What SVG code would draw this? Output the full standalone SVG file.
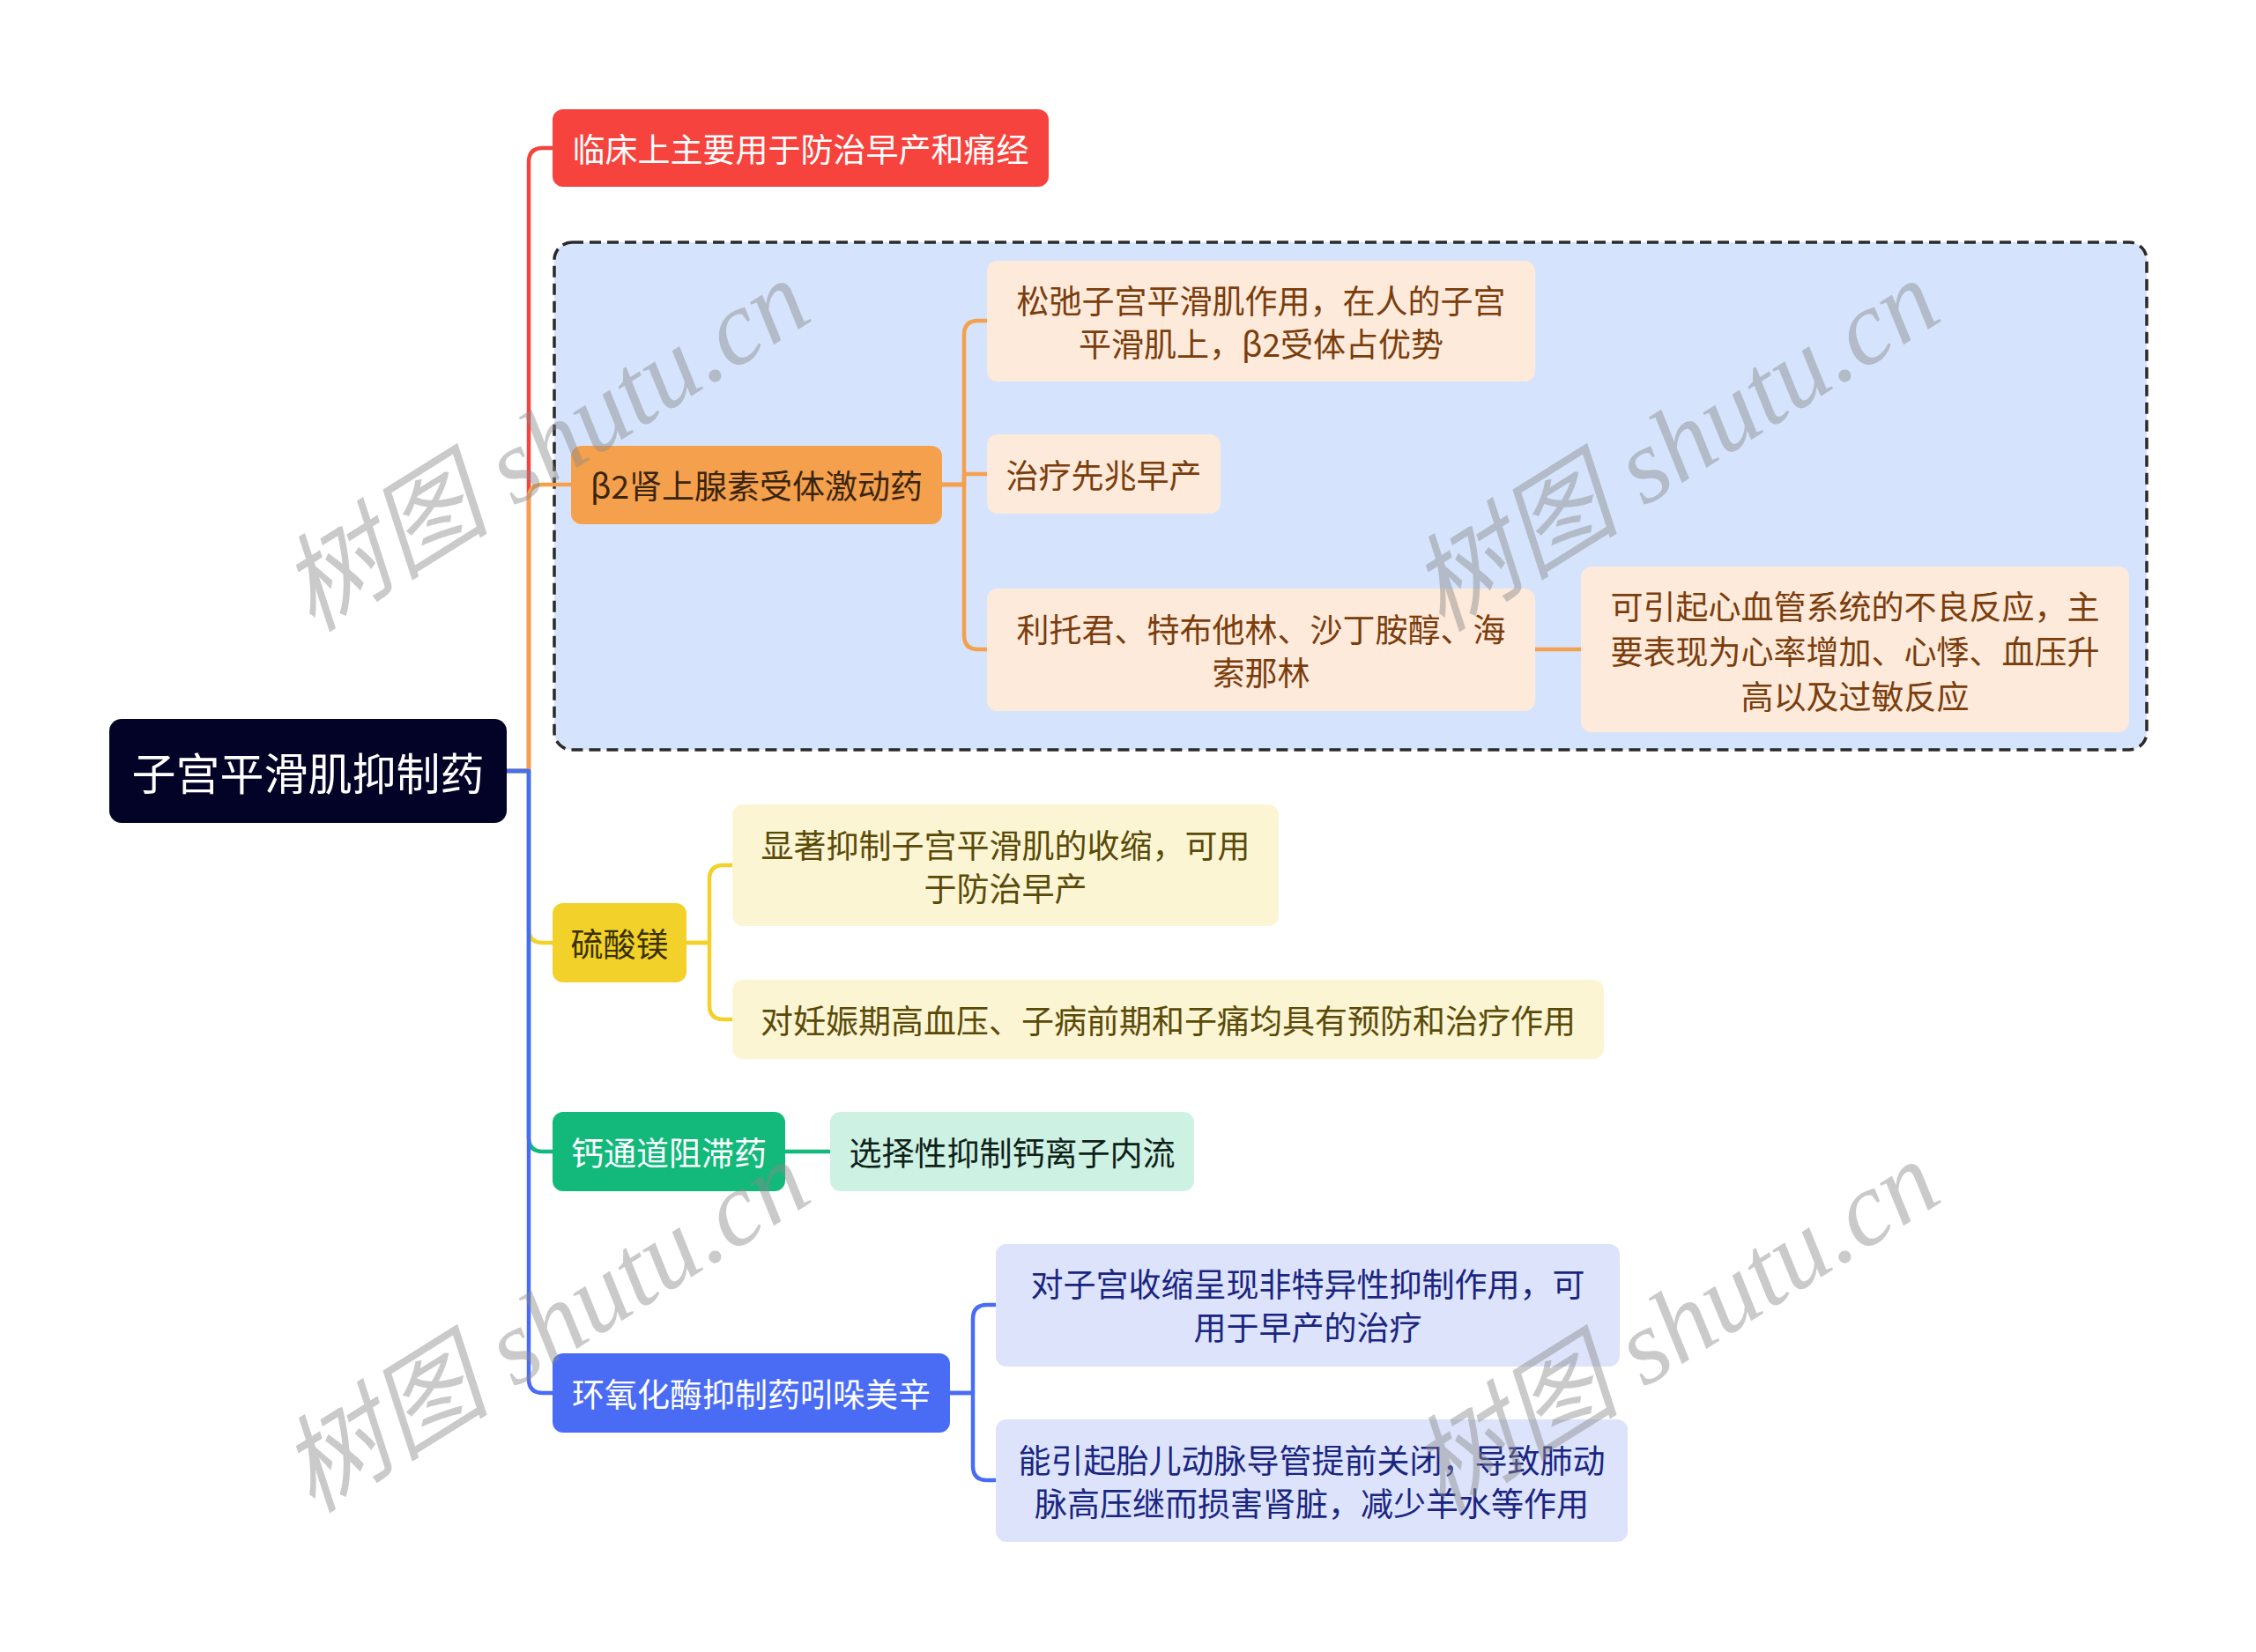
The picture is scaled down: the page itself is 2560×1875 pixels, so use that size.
<svg xmlns="http://www.w3.org/2000/svg" width="2560" height="1875" viewBox="0 0 2560 1875">
<style>
text{font-family:"Noto Sans CJK SC","Noto Sans",sans-serif;text-anchor:middle;dominant-baseline:central}
.t{font-size:37px}
.conn{fill:none;stroke-width:4.5;stroke-linecap:round;stroke-linejoin:round}
.wm{font-family:"Liberation Serif","Noto Sans CJK SC",serif;font-style:italic;font-size:120px;fill:#8a8a8a;fill-opacity:0.45;text-anchor:middle;dominant-baseline:alphabetic}
</style>
<rect width="2560" height="1875" fill="#ffffff"/>
<g id="group-box">
<rect x="629" y="275" width="1807" height="576" rx="20" fill="#d5e4fc" stroke="#2a2a2a" stroke-width="3.5" stroke-dasharray="13 7"/>
</g>
<g id="connectors">
<path class="conn" stroke="#f4443e" d="M575,875 H600 V184 Q600,168 616,168 H627"/>
<path class="conn" stroke="#f4a04c" d="M575,875 H600 V566 Q600,550 616,550 H648"/>
<path class="conn" stroke="#f1d12a" d="M575,875 H600 V1054 Q600,1070 616,1070 H627"/>
<path class="conn" stroke="#12b97b" d="M575,875 H600 V1291 Q600,1307 616,1307 H627"/>
<path class="conn" stroke="#4a6cf5" d="M575,875 H600 V1565 Q600,1581 616,1581 H627"/>
<path class="conn" stroke="#f4a04c" d="M1069,550 H1094 V380 Q1094,364 1110,364 H1120"/>
<path class="conn" stroke="#f4a04c" d="M1069,550 H1094 V538 H1120"/>
<path class="conn" stroke="#f4a04c" d="M1069,550 H1094 V721 Q1094,737 1110,737 H1120"/>
<path class="conn" stroke="#f4a04c" d="M1742,737 H1794"/>
<path class="conn" stroke="#f1d12a" d="M779,1070 H805 V998 Q805,982 821,982 H831"/>
<path class="conn" stroke="#f1d12a" d="M779,1070 H805 V1141 Q805,1157 821,1157 H831"/>
<path class="conn" stroke="#12b97b" d="M891,1307 H942"/>
<path class="conn" stroke="#4a6cf5" d="M1078,1581 H1104 V1497 Q1104,1481 1120,1481 H1130"/>
<path class="conn" stroke="#4a6cf5" d="M1078,1581 H1104 V1664 Q1104,1680 1120,1680 H1130"/>
</g>
<g id="root">
<rect x="124" y="816" width="451" height="118" rx="14" fill="#020326"/>
<text x="349.5" y="875" font-size="50" fill="#ffffff">子宫平滑肌抑制药</text>
</g>
<g id="n-red">
<rect x="627" y="124" width="563" height="88" rx="12" fill="#f7433e"/>
<text class="t" x="908.5" y="168" fill="#ffffff">临床上主要用于防治早产和痛经</text>
</g>
<g id="n-beta2">
<rect x="648" y="506" width="421" height="89" rx="12" fill="#f4a04c"/>
<text class="t" x="858.5" y="550" fill="#3b2510">β2肾上腺素受体激动药</text>
</g>
<g id="n-b1">
<rect x="1120" y="296" width="622" height="137" rx="12" fill="#fdeadb"/>
<text class="t" x="1431" y="340" fill="#7a3d0c">松弛子宫平滑肌作用，在人的子宫</text>
<text class="t" x="1431" y="389" fill="#7a3d0c">平滑肌上，β2受体占优势</text>
</g>
<g id="n-b2">
<rect x="1120" y="493" width="265" height="90" rx="12" fill="#fdeadb"/>
<text class="t" x="1252.5" y="538" fill="#7a3d0c">治疗先兆早产</text>
</g>
<g id="n-b3">
<rect x="1120" y="668" width="622" height="139" rx="12" fill="#fdeadb"/>
<text class="t" x="1431" y="713" fill="#7a3d0c">利托君、特布他林、沙丁胺醇、海</text>
<text class="t" x="1431" y="762" fill="#7a3d0c">索那林</text>
</g>
<g id="n-b4">
<rect x="1794" y="643" width="622" height="188" rx="12" fill="#fdeadb"/>
<text class="t" x="2105" y="687" fill="#7a3d0c">可引起心血管系统的不良反应，主</text>
<text class="t" x="2105" y="738" fill="#7a3d0c">要表现为心率增加、心悸、血压升</text>
<text class="t" x="2105" y="789" fill="#7a3d0c">高以及过敏反应</text>
</g>
<g id="n-mg">
<rect x="627" y="1025" width="152" height="90" rx="12" fill="#f1d12a"/>
<text class="t" x="703" y="1070" fill="#3a3000">硫酸镁</text>
</g>
<g id="n-mg1">
<rect x="831" y="913" width="620" height="138" rx="12" fill="#fbf5d4"/>
<text class="t" x="1141" y="958" fill="#5a4a08">显著抑制子宫平滑肌的收缩，可用</text>
<text class="t" x="1141" y="1007" fill="#5a4a08">于防治早产</text>
</g>
<g id="n-mg2">
<rect x="831" y="1112" width="989" height="90" rx="12" fill="#fbf5d4"/>
<text class="t" x="1325.5" y="1157" fill="#5a4a08">对妊娠期高血压、子病前期和子痛均具有预防和治疗作用</text>
</g>
<g id="n-ca">
<rect x="627" y="1262" width="264" height="90" rx="12" fill="#12b97b"/>
<text class="t" x="759" y="1307" fill="#ffffff">钙通道阻滞药</text>
</g>
<g id="n-ca1">
<rect x="942" y="1262" width="413" height="90" rx="12" fill="#cdf1e2"/>
<text class="t" x="1148.5" y="1307" fill="#0d2119">选择性抑制钙离子内流</text>
</g>
<g id="n-cox">
<rect x="627" y="1536" width="451" height="90" rx="12" fill="#4a6cf5"/>
<text class="t" x="852.5" y="1581" fill="#ffffff">环氧化酶抑制药吲哚美辛</text>
</g>
<g id="n-cox1">
<rect x="1130" y="1412" width="708" height="139" rx="12" fill="#dce3fb"/>
<text class="t" x="1484" y="1456" fill="#1a2580">对子宫收缩呈现非特异性抑制作用，可</text>
<text class="t" x="1484" y="1505" fill="#1a2580">用于早产的治疗</text>
</g>
<g id="n-cox2">
<rect x="1130" y="1611" width="717" height="139" rx="12" fill="#dce3fb"/>
<text class="t" x="1488.5" y="1656" fill="#1a2580">能引起胎儿动脉导管提前关闭，导致肺动</text>
<text class="t" x="1488.5" y="1705" fill="#1a2580">脉高压继而损害肾脏，减少羊水等作用</text>
</g>
<g id="watermarks">
<text class="wm" transform="translate(640,540) rotate(-32)">树图 shutu.cn</text>
<text class="wm" transform="translate(1922,540) rotate(-32)">树图 shutu.cn</text>
<text class="wm" transform="translate(640,1540) rotate(-32)">树图 shutu.cn</text>
<text class="wm" transform="translate(1922,1540) rotate(-32)">树图 shutu.cn</text>
</g>
</svg>
